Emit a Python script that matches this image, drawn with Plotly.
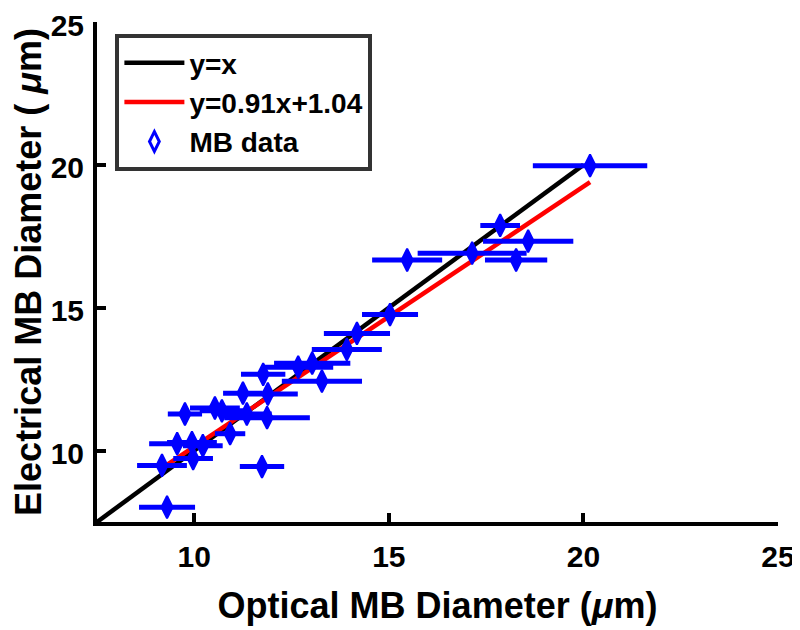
import plotly.graph_objects as go

# optical (x) vs electrical (y) diameters, um
optical = [9.30, 9.17, 11.74, 9.97, 9.56, 9.94, 10.22, 9.76, 10.92, 10.53,
           10.71, 11.25, 11.87, 11.35, 11.89, 11.77, 13.03, 13.28, 12.67, 13.92,
           14.18, 15.03, 15.47, 17.14, 17.86, 18.58, 18.27, 20.17]
electrical = [8.02, 9.48, 9.44, 9.72, 10.24, 10.28, 10.17, 11.28, 10.59, 11.49,
              11.39, 12.01, 11.15, 11.28, 11.98, 12.67, 13.06, 12.43, 12.92, 13.54,
              14.10, 14.76, 16.67, 16.91, 17.88, 17.33, 16.67, 19.97]
optical_err = [0.72, 0.64, 0.57, 0.51, 0.72, 0.64, 0.51, 0.44, 0.39, 0.64,
               0.57, 0.51, 1.10, 0.64, 0.77, 0.57, 0.98, 1.03, 0.90, 0.90,
               0.85, 0.72, 0.90, 1.40, 0.51, 1.16, 0.80, 1.47]

identity_x = [7.5, 20.0]
fit_slope, fit_icpt = 0.91, 1.04
fit_x = [9.16, 20.17]

fnt = "Arial, Liberation Sans, sans-serif"

fig = go.Figure()

fig.add_trace(go.Scatter(
    x=identity_x, y=identity_x, mode="lines", name="y=x",
    line=dict(color="black", width=4.5)))

fig.add_trace(go.Scatter(
    x=fit_x, y=[fit_slope * v + fit_icpt for v in fit_x], mode="lines",
    name="y=0.91x+1.04", line=dict(color="#ff0000", width=4.5)))

fig.add_trace(go.Scatter(
    x=optical, y=electrical, mode="markers", name="MB data", showlegend=False,
    marker=dict(symbol="diamond-tall", size=16, color="#0000ff",
                line=dict(color="#0000ff", width=2)),
    error_x=dict(type="data", array=optical_err, color="#0000ff",
                 thickness=5, width=0)))

# legend entry (open diamond like the original)
fig.add_trace(go.Scatter(
    x=[None], y=[None], mode="markers", name="MB data",
    marker=dict(symbol="diamond-tall-open", size=14, color="#0000ff",
                line=dict(color="#0000ff", width=3))))

axis_common = dict(
    range=[7.5, 25], tickvals=[10, 15, 20, 25],
    showline=True, linecolor="black", linewidth=4,
    ticks="inside", ticklen=9, tickwidth=4, tickcolor="black",
    showgrid=False, zeroline=False, ticklabeloverflow="allow",
    automargin=False,
    tickfont=dict(family=fnt, size=30, color="black", weight="bold"),
)

fig.update_xaxes(**axis_common, ticklabelstandoff=5,
                 title=dict(text="Optical MB Diameter (<i>μ</i>m)",
                            font=dict(family=fnt, size=36, color="black", weight="bold"),
                            standoff=22))
fig.update_yaxes(**axis_common, ticklabelstandoff=3, ticklabelshift=3,
                 title=dict(text="Electrical MB Diameter ( <i>μ</i>m)",
                            font=dict(family=fnt, size=36, color="black", weight="bold"),
                            standoff=6))

# page body adds an 8px offset, so size the figure to the visible area
fig.update_layout(
    width=792, height=622,
    margin=dict(l=89, r=22, t=14, b=108),
    plot_bgcolor="white", paper_bgcolor="white",
    font=dict(family=fnt, color="black"),
    legend=dict(x=0.027, y=0.976, xanchor="left", yanchor="top",
                bordercolor="#333333", borderwidth=4, bgcolor="white",
                font=dict(family=fnt, size=28, color="black", weight="bold"),
                tracegroupgap=0, itemwidth=60),
    showlegend=True,
)

fig.write_html("out.html")
